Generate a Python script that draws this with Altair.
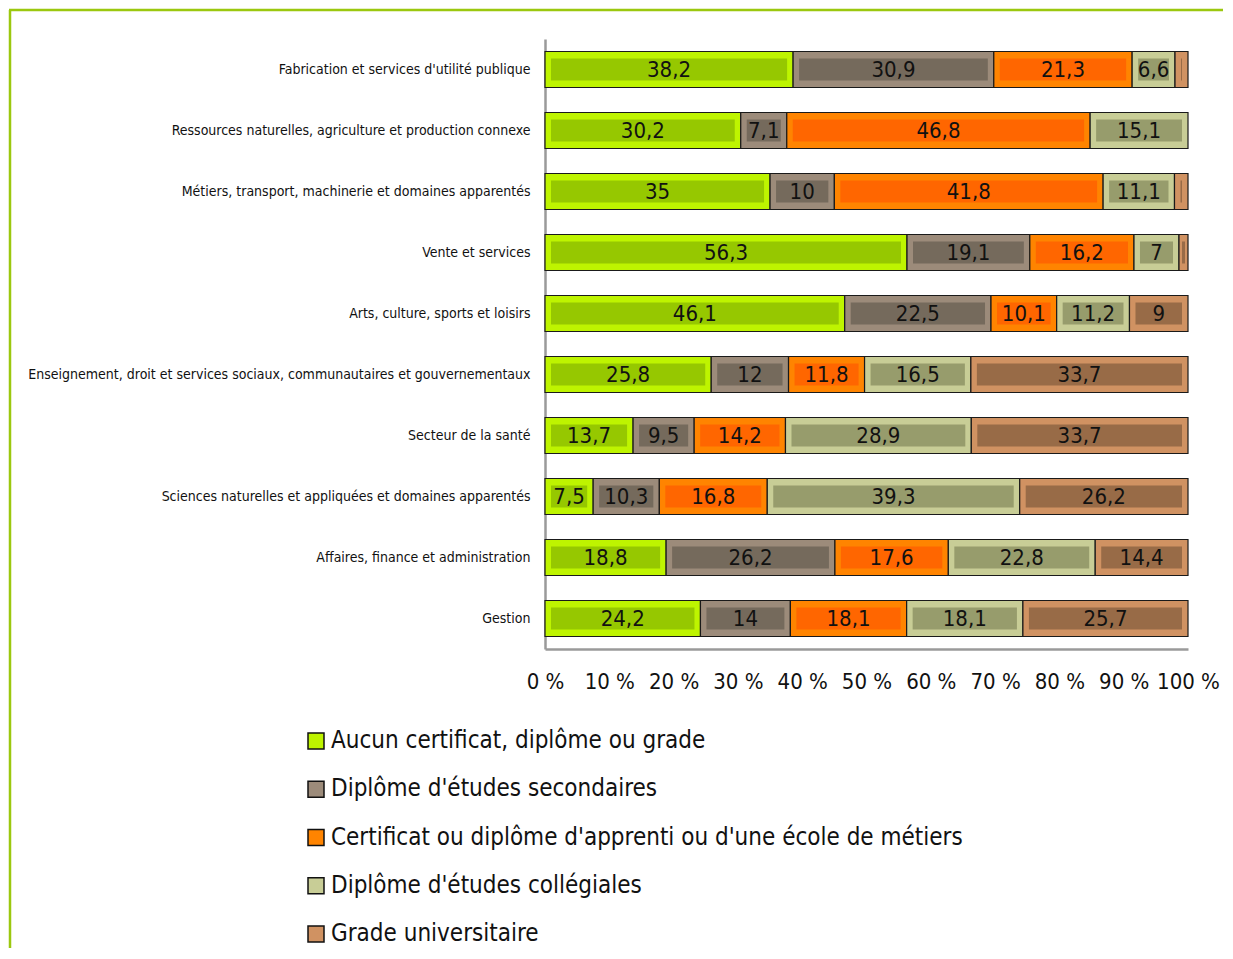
import altair as alt
import pandas as pd

categories = [
    "Fabrication et services d'utilité publique",
    "Ressources naturelles, agriculture et production connexe",
    "Métiers, transport, machinerie et domaines apparentés",
    "Vente et services",
    "Arts, culture, sports et loisirs",
    "Enseignement, droit et services sociaux, communautaires et gouvernementaux",
    "Secteur de la santé",
    "Sciences naturelles et appliquées et domaines apparentés",
    "Affaires, finance et administration",
    "Gestion",
]
series = [
    "Aucun certificat, diplôme ou grade",
    "Diplôme d'études secondaires",
    "Certificat ou diplôme d'apprenti ou d'une école de métiers",
    "Diplôme d'études collégiales",
    "Grade universitaire",
]
aucun = [38.2, 30.2, 35, 56.3, 46.1, 25.8, 13.7, 7.5, 18.8, 24.2]
secondaire = [30.9, 7.1, 10, 19.1, 22.5, 12, 9.5, 10.3, 26.2, 14]
apprenti = [21.3, 46.8, 41.8, 16.2, 10.1, 11.8, 14.2, 16.8, 17.6, 18.1]
collegial = [6.6, 15.1, 11.1, 7, 11.2, 16.5, 28.9, 39.3, 22.8, 18.1]
universite = [2.0, 0, 2.1, 1.4, 9, 33.7, 33.7, 26.2, 14.4, 25.7]
x_ticks = [0, 0.1, 0.2, 0.3, 0.4, 0.5, 0.6, 0.7, 0.8, 0.9, 1.0]

light_colors = ["#BEF400", "#9C8B7A", "#FF8400", "#C8CD96", "#D09262"]
dark_colors = ["#96C800", "#756A5C", "#FF6600", "#979C6C", "#986B47"]

rows = []
for k, (s, vals) in enumerate(zip(series, [aucun, secondaire, apprenti, collegial, universite])):
    for c, v in zip(categories, vals):
        rows.append({"cat": c, "serie": s, "k": k, "value": v})
df = pd.DataFrame(rows)

FONT = "Liberation Sans Narrow, DejaVu Sans Condensed, Open Sans, sans-serif"

base = (
    alt.Chart(df)
    .transform_filter("datum.value > 0")
    .transform_joinaggregate(total="sum(value)", groupby=["cat"])
    .transform_window(cum="sum(value)", sort=[alt.SortField("k")], groupby=["cat"], frame=[None, 0])
    .transform_calculate(
        x0="(datum.cum - datum.value) / datum.total",
        x1="datum.cum / datum.total",
        xm="(datum.cum - datum.value / 2) / datum.total",
        label="datum.value >= 3 ? replace(toString(datum.value), '.', ',') : ''",
    )
)

y_enc = alt.Y(
    "cat:N",
    sort=categories,
    scale=alt.Scale(paddingInner=0, paddingOuter=0),
    axis=alt.Axis(
        title=None, labelFontSize=14, labelPadding=15, ticks=False,
        domainColor="#9a9a9a", domainWidth=2.5, labelLimit=700,
        labelColor="#111", labelFont=FONT,
    ),
)
x_enc = alt.X(
    "x0:Q",
    scale=alt.Scale(domain=[0, 1], nice=False),
    axis=alt.Axis(
        title=None, values=x_ticks, labelExpr="format(datum.value * 100, 'd') + ' %'",
        ticks=False, grid=False, labelFontSize=22, labelPadding=22,
        domainColor="#9a9a9a", domainWidth=2.5, labelColor="#111", labelFont=FONT,
        labelFlush=False, labelOverlap=False,
    ),
)

outer = base.mark_bar(size=36, stroke="#1a1a1a", strokeWidth=1.2).encode(
    y=y_enc,
    x=x_enc,
    x2="x1:Q",
    color=alt.Color(
        "serie:N",
        scale=alt.Scale(domain=series, range=light_colors),
        legend=alt.Legend(
            title=None, orient="none", legendX=-241, legendY=690,
            direction="vertical", symbolType="square", symbolSize=256,
            symbolStrokeColor="#111", symbolStrokeWidth=1.5,
            labelFontSize=24, labelFont=FONT, labelColor="#111",
            labelOffset=3, rowPadding=24.25, labelLimit=900, padding=0,
        ),
    ),
    order=alt.Order("k:Q"),
)

inner = base.mark_bar(size=22, xOffset=6, x2Offset=-6).encode(
    y=alt.Y("cat:N", sort=categories),
    x=alt.X("x0:Q"),
    x2="x1:Q",
    color=alt.Color("serie:N", scale=alt.Scale(domain=series, range=dark_colors), legend=None),
)

text = base.mark_text(fontSize=22, font=FONT, color="#111", baseline="middle", align="center").encode(
    y=alt.Y("cat:N", sort=categories),
    x=alt.X("xm:Q"),
    text="label:N",
)

frame_df = pd.DataFrame({"a": [0]})
left_line = alt.Chart(frame_df).mark_rule(color="#9BC80F", strokeWidth=2.5).encode(
    x=alt.value(-535), y=alt.value(-29), y2=alt.value(940)
)
top_line = alt.Chart(frame_df).mark_rule(color="#9BC80F", strokeWidth=2.5).encode(
    x=alt.value(-536), x2=alt.value(700), y=alt.value(-29)
)

chart = (
    alt.layer(outer, inner, text, left_line, top_line)
    .resolve_scale(color="independent")
    .properties(
        width=643, height=610,
        autosize=alt.AutoSizeParams(type="none"),
        padding={"left": 537, "top": 31, "right": 35, "bottom": 299},
        background="white",
    )
    .configure_view(stroke=None)
)

chart.save("out.html", embed_options={"renderer": "svg", "actions": False})
